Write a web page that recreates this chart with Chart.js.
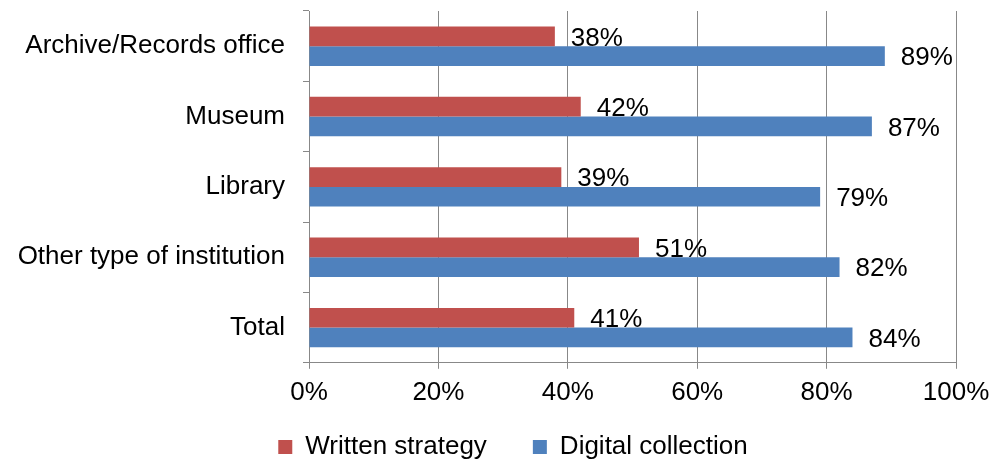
<!DOCTYPE html>
<html><head><meta charset="utf-8">
<script src="https://cdn.jsdelivr.net/npm/chart.js@4.4.0/dist/chart.umd.min.js"></script>
<style>html,body{margin:0;padding:0;background:#fff}#wrap{width:995px;height:462px}</style>
</head><body><div id="wrap"><canvas id="c" width="995" height="462"></canvas></div>
<script>
const categories = ["Archive/Records office", "Museum", "Library", "Other type of institution", "Total"];
const writtenStrategy = [38, 42, 39, 51, 41];
const digitalCollection = [89, 87, 79, 82, 84];
const xTicks = [0, 20, 40, 60, 80, 100];

const FONT = "'Liberation Sans', Arial, sans-serif";
const FS = 26;

const labelPlugin = {
  id: 'barLabels',
  afterDatasetsDraw(chart) {
    const ctx = chart.ctx;
    ctx.save();
    ctx.font = FS + "px " + FONT;
    ctx.fillStyle = "#000";
    ctx.textAlign = "left";
    ctx.textBaseline = "middle";
    chart.data.datasets.forEach((ds, i) => {
      chart.getDatasetMeta(i).data.forEach((bar, j) => {
        ctx.fillText(ds.data[j] + "%", bar.x + 16, bar.y + 2);
      });
    });
    ctx.restore();
  }
};

const legendShift = {
  id: 'legendShift',
  afterLayout(chart) {
    const lg = chart.legend;
    const dx = 35, dy = -28;
    lg.left += dx; lg.right += dx;
    lg.top += dy; lg.bottom += dy;
  }
};

new Chart(document.getElementById('c'), {
  type: 'bar',
  data: {
    labels: categories,
    datasets: [
      { label: "Written strategy", data: writtenStrategy, backgroundColor: "#C0504D", borderWidth: 0,
        categoryPercentage: 0.56, barPercentage: 1 },
      { label: "Digital collection", data: digitalCollection, backgroundColor: "#4F81BD", borderWidth: 0,
        categoryPercentage: 0.56, barPercentage: 1 }
    ]
  },
  options: {
    indexAxis: 'y',
    responsive: false,
    animation: false,
    devicePixelRatio: 1,
    layout: { padding: { top: 11, right: 39, left: 0, bottom: -36 } },
    plugins: {
      legend: {
        position: 'bottom',
        labels: { font: { size: FS, family: FONT }, color: "#000", boxWidth: 14, boxHeight: 14, padding: 46 }
      },
      tooltip: { enabled: false }
    },
    scales: {
      x: {
        min: 0, max: 100,
        afterBuildTicks(axis) { axis.ticks = xTicks.map(v => ({ value: v })); },
        afterFit(axis) { axis.paddingRight = 0; axis.paddingLeft = 0; },
        ticks: { callback: v => v + "%", font: { size: FS, family: FONT }, color: "#000", padding: 8 },
        grid: { color: "#888", lineWidth: 1, tickLength: 6, drawTicks: true },
        border: { color: "#888", width: 1 }
      },
      y: {
        afterFit(axis) { axis.width = 309; axis.paddingTop = 0; axis.paddingBottom = 0; },
        ticks: { font: { size: FS, family: FONT }, color: "#000", padding: 18 },
        grid: { offset: true, drawOnChartArea: false, color: "#888", tickLength: 6 },
        border: { color: "#888", width: 1 }
      }
    }
  },
  plugins: [labelPlugin, legendShift]
});
</script></body></html>
